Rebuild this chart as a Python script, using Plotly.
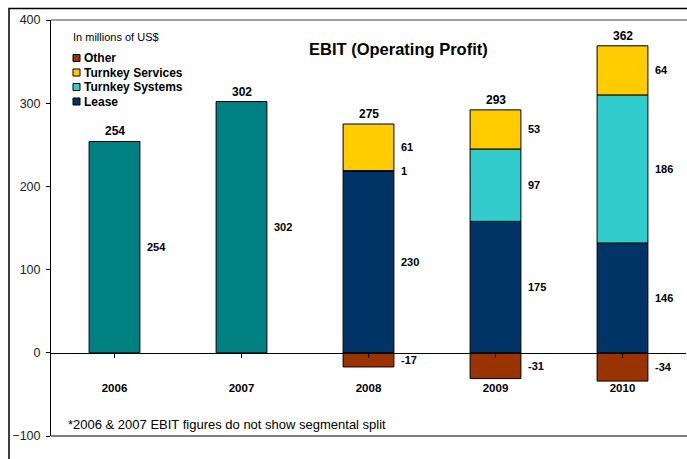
import plotly.graph_objects as go

# ---------------- data ----------------
years = ["2006", "2007", "2008", "2009", "2010"]
# plotted bar heights
ebit_total_only = [254, 302, None, None, None]
lease = [None, None, 218, 158, 132]
turnkey_systems = [None, None, 1, 87, 178]
turnkey_services = [None, None, 56, 47, 59]
other = [None, None, -17, -31, -34]
# printed labels
total_labels = ["254", "302", "275", "293", "362"]
total_only_labels = ["254", "302", "", "", ""]
lease_labels = ["", "", "230", "175", "146"]
systems_labels = ["", "", "1", "97", "186"]
services_labels = ["", "", "61", "53", "64"]
other_labels = ["", "", "-17", "-31", "-34"]
y_ticks = [-100, 0, 100, 200, 300, 400]

# ---------------- style ----------------
W_FIG, H_FIG = 687, 459
L, R, T, B = 51, 1, 20, 23
PW, PH = W_FIG - L - R, H_FIG - T - B
FONT = "Arial, Liberation Sans, sans-serif"
C_TEAL = "#008080"
C_LEASE = "#003366"
C_SYS = "#33CCCC"
C_SVC = "#FFCC00"
C_OTHER = "#993300"


def px2x(px):
    return (px - L) / PW


def px2y(py):
    return (H_FIG - B - py) / PH


fig = go.Figure()
bar_line = dict(color="black", width=1)
series = [
    ("EBIT", ebit_total_only, C_TEAL, total_only_labels),
    ("Lease", lease, C_LEASE, lease_labels),
    ("Turnkey Systems", turnkey_systems, C_SYS, systems_labels),
    ("Turnkey Services", turnkey_services, C_SVC, services_labels),
    ("Other", other, C_OTHER, other_labels),
]
for name, vals, col, _ in series:
    fig.add_trace(go.Bar(x=list(range(len(years))), y=vals, name=name,
                         marker=dict(color=col, line=bar_line), width=0.4,
                         showlegend=False, hoverinfo="skip"))

annotations = []
# segment labels to the right of the bars
for idx, (name, vals, col, labs) in enumerate(series):
    for i, (v, lab) in enumerate(zip(vals, labs)):
        if v is None or lab == "":
            continue
        if v >= 0:
            base = sum(s[1][i] for s in series[:idx]
                       if s[1][i] is not None and s[1][i] > 0)
            ymid = base + v / 2
        else:
            ymid = v / 2
        annotations.append(dict(x=i + 0.2, y=ymid, text="<b>%s</b>" % lab,
                                showarrow=False, xanchor="left", yanchor="middle",
                                xshift=5,
                                font=dict(family=FONT, size=11, color="black")))
# totals above the bars
for i, lab in enumerate(total_labels):
    top = sum(s[1][i] for s in series if s[1][i] is not None and s[1][i] > 0)
    annotations.append(dict(x=i, y=top, text="<b>%s</b>" % lab, showarrow=False,
                            yanchor="bottom", yshift=1,
                            font=dict(family=FONT, size=12, color="black")))

# title, unit note, footnote
annotations.append(dict(xref="paper", yref="paper", x=px2x(398), y=px2y(49),
                        text="<b>EBIT (Operating Profit)</b>", showarrow=False,
                        xanchor="center", yanchor="middle",
                        font=dict(family=FONT, size=16.5, color="black")))
annotations.append(dict(xref="paper", yref="paper", x=px2x(71), y=px2y(37),
                        text="In millions of US$", showarrow=False,
                        xanchor="left", yanchor="middle",
                        font=dict(family=FONT, size=11, color="black")))
annotations.append(dict(xref="paper", yref="paper", x=px2x(66), y=px2y(424),
                        text="*2006 &amp; 2007 EBIT figures do not show segmental split",
                        showarrow=False, xanchor="left", yanchor="middle",
                        font=dict(family=FONT, size=13, color="black")))

shapes = []
# custom legend
legend_items = [("Other", C_OTHER), ("Turnkey Services", C_SVC),
                ("Turnkey Systems", C_SYS), ("Lease", C_LEASE)]
for k, (nm, col) in enumerate(legend_items):
    cy = 58 + k * 14.5
    shapes.append(dict(type="rect", xref="paper", yref="paper",
                       x0=px2x(73), x1=px2x(80), y0=px2y(cy + 3.5), y1=px2y(cy - 3.5),
                       fillcolor=col, line=dict(color="black", width=1)))
    annotations.append(dict(xref="paper", yref="paper", x=px2x(82), y=px2y(cy),
                            text="<b>%s</b>" % nm, showarrow=False,
                            xanchor="left", yanchor="middle",
                            font=dict(family=FONT, size=12, color="black")))

# plot area top border (gray), black bottom line
shapes.append(dict(type="line", xref="paper", yref="paper", x0=0, x1=1.1, y0=1, y1=1,
                   line=dict(color="#808080", width=1.5)))
shapes.append(dict(type="line", xref="paper", yref="paper", x0=0, x1=1.1, y0=0, y1=0,
                   line=dict(color="black", width=1)))
# outer frame
shapes.append(dict(type="rect", xref="paper", yref="paper",
                   x0=px2x(9), x1=px2x(720), y0=px2y(500), y1=px2y(8.5),
                   line=dict(color="black", width=1.5)))

fig.update_layout(
    width=W_FIG, height=H_FIG,
    margin=dict(l=L, r=R, t=T, b=B, pad=0, autoexpand=False),
    paper_bgcolor="white", plot_bgcolor="white",
    barmode="relative",
    showlegend=False,
    annotations=annotations,
    shapes=shapes,
    font=dict(family=FONT, color="black"),
    xaxis=dict(tickmode="array", tickvals=list(range(len(years))),
               ticktext=["<b>%s</b>" % y for y in years],
               range=[-0.5, len(years) - 0.5],
               anchor="free", position=0.2, automargin=False,
               showline=True, linecolor="black", linewidth=1,
               ticks="outside", ticklen=4, tickcolor="black",
               tickson="boundaries", ticklabelstandoff=20,
               showgrid=False, zeroline=False,
               tickfont=dict(family=FONT, size=11.5, color="black")),
    yaxis=dict(range=[-100, 400], tickvals=y_ticks, automargin=False,
               showline=True, linecolor="black", linewidth=1,
               ticks="outside", ticklen=4, tickcolor="black",
               ticklabelstandoff=3,
               showgrid=False, zeroline=False,
               tickfont=dict(family=FONT, size=12.5, color="#222222")),
)

fig.write_html("out.html",
               config={"displayModeBar": False},
               post_script="document.body.style.margin='0';"
                           "document.body.style.overflow='hidden';")
